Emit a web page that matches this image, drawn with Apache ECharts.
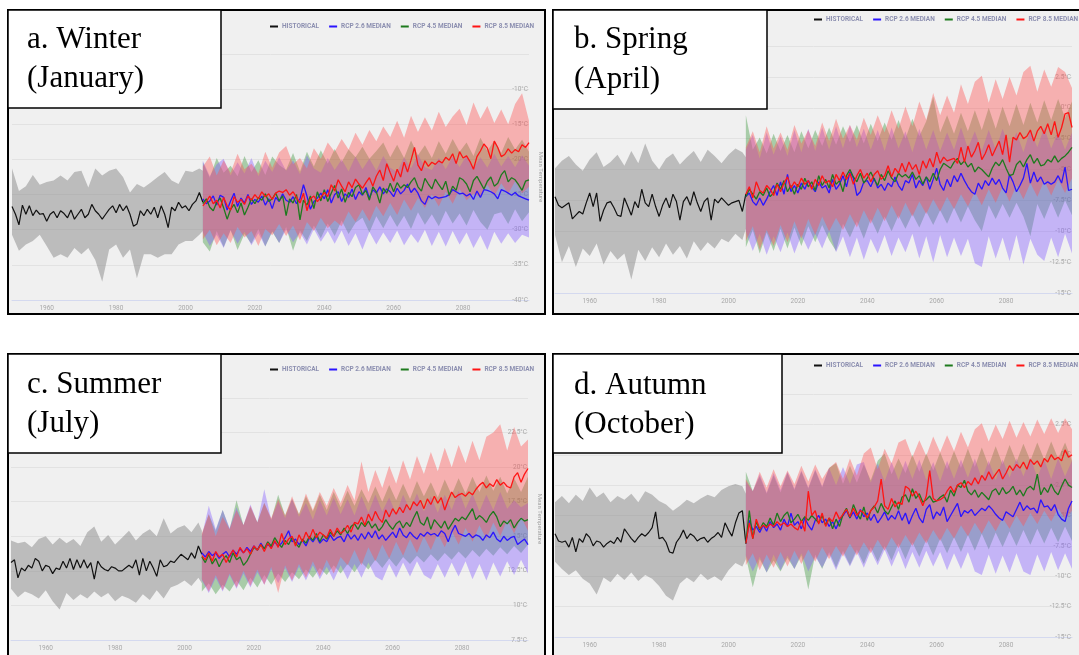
<!DOCTYPE html>
<html>
<head>
<meta charset="utf-8">
<script src="https://cdn.jsdelivr.net/npm/echarts@6/dist/echarts.min.js"></script>
<style>
  html, body { margin: 0; padding: 0; background: #fff; }
  #chart { width: 1079px; height: 655px; }
</style>
</head>
<body>
<div id="chart"></div>
<script>
// years
const range = (a, b, s) => { const r = []; for (let y = a; y <= b; y += s) r.push(y); return r; };
const allYears = range(1950, 2099, 1);
const histYears = range(1950, 2005, 1);
const histBandYears = range(1950, 2004, 2).concat([2005]);
const rcpYears = range(2005, 2099, 1);
const rcpBandYears = range(2005, 2099, 2);
const xTickYears = [1960, 1980, 2000, 2020, 2040, 2060, 2080];
const legendNames = ['HISTORICAL', 'RCP 2.6 MEDIAN', 'RCP 4.5 MEDIAN', 'RCP 8.5 MEDIAN'];

// a. Winter (January)
const winterHist = [-26.7, -27.8, -29.3, -26.5, -27.8, -26.6, -28.0, -27.2, -27.8, -27.7,
  -28.8, -27.8, -27.4, -28.3, -27.3, -27.7, -28.3, -27.2, -28.5, -27.8,
  -27.1, -28.3, -27.8, -26.4, -27.3, -27.8, -28.5, -27.8, -27.1, -26.6,
  -27.6, -26.4, -27.3, -26.6, -27.8, -29.5, -29.2, -27.3, -28.0, -27.1,
  -27.8, -26.8, -28.3, -26.6, -27.8, -29.7, -26.8, -27.3, -26.1, -26.9,
  -26.6, -27.3, -26.4, -25.9, -24.7, -26.1];
const winterHistHi = [-21.3, -24.5, -23.8, -22.2, -23.6, -23.2, -23.0, -22.3, -23.0, -21.8,
  -21.6, -24.0, -21.3, -22.3, -21.6, -21.3, -22.5, -24.7, -23.5, -24.0,
  -23.3, -22.5, -21.8, -23.0, -23.5, -21.6, -21.8, -21.3, -21.6];
const winterHistLo = [-30.7, -33.0, -32.1, -31.6, -30.7, -32.3, -34.0, -33.5, -34.0, -32.6,
  -33.5, -32.6, -34.3, -37.4, -32.8, -32.1, -34.0, -32.8, -36.9, -33.5,
  -33.5, -34.0, -33.5, -33.5, -32.1, -31.6, -31.6, -30.7, -30.2];
const winterRcp85 = [-26.6, -26.0, -25.2, -26.3, -25.8, -26.9, -25.4, -26.6, -27.2, -25.3,
  -26.1, -25.7, -26.4, -25.2, -25.8, -25.0, -25.6, -24.6, -25.3, -24.9,
  -25.7, -24.8, -24.5, -24.7, -24.3, -25.1, -24.6, -25.4, -26.2, -24.8,
  -27.3, -25.6, -25.2, -26.0, -25.4, -24.7, -25.3, -23.6, -24.5, -22.9,
  -23.8, -24.6, -23.2, -24.0, -22.8, -23.5, -24.1, -23.3, -22.6, -23.8,
  -22.4, -21.5, -23.0, -20.6, -21.9, -23.1, -21.4, -22.5, -20.4, -21.8,
  -20.1, -18.3, -20.8, -21.6, -20.2, -21.0, -20.4, -20.7, -20.2, -20.5,
  -19.7, -20.1, -19.2, -20.6, -18.9, -19.8, -19.5, -20.3, -21.4, -19.6,
  -18.8, -17.8, -18.4, -19.9, -17.4, -18.3, -19.6, -19.3, -18.5, -19.1,
  -18.6, -18.9, -17.9, -18.3, -17.6];
const winterRcp45 = [-26.3, -25.6, -26.8, -27.3, -26.1, -25.5, -26.9, -28.5, -27.1, -26.4,
  -27.6, -26.2, -27.9, -26.8, -25.6, -26.3, -25.4, -25.8, -24.9, -26.0,
  -25.6, -24.8, -25.9, -25.2, -28.0, -25.6, -26.2, -25.0, -28.6, -25.8,
  -26.5, -25.2, -27.0, -24.6, -25.9, -24.3, -26.0, -24.8, -23.7, -25.5,
  -24.2, -26.1, -24.7, -25.3, -24.0, -23.6, -25.0, -24.4, -25.8, -23.9,
  -24.6, -26.2, -24.1, -24.8, -23.4, -24.6, -23.3, -24.1, -23.6, -24.0,
  -23.2, -22.6, -23.9, -24.5, -22.7, -23.5, -24.2, -22.8, -23.6, -24.3,
  -23.1, -25.1, -23.8, -24.4, -22.6, -22.9, -23.5, -24.6, -23.0, -22.4,
  -23.3, -24.2, -23.1, -22.5, -23.8, -23.4, -22.2, -21.6, -23.2, -22.6,
  -22.9, -23.6, -24.4, -23.1, -22.9];
const winterRcp26 = [-25.6, -26.3, -25.9, -25.2, -26.5, -25.1, -25.4, -27.2, -25.9, -24.8,
  -26.7, -25.5, -26.2, -25.0, -26.4, -25.7, -26.1, -25.2, -26.5, -25.6,
  -27.0, -25.4, -26.0, -24.9, -25.8, -26.1, -25.3, -26.3, -25.6, -23.6,
  -25.2, -27.1, -26.0, -25.5, -24.8, -25.6, -24.3, -26.2, -25.0, -24.6,
  -26.0, -24.9, -25.4, -24.2, -25.7, -24.6, -25.1, -24.0, -25.5, -24.3,
  -24.8, -23.9, -24.9, -24.2, -24.6, -25.3, -24.1, -24.9, -24.4, -23.5,
  -24.7, -24.1, -24.8, -25.9, -26.4, -25.2, -25.6, -25.3, -25.5, -25.4,
  -25.3, -25.0, -24.3, -24.6, -24.9, -24.8, -25.2, -24.9, -25.7, -24.5,
  -25.4, -24.3, -24.4, -24.6, -24.9, -25.6, -24.3, -24.5, -24.8, -25.1,
  -24.7, -25.2, -25.4, -25.6, -25.8];
const winterRcp85Hi = [-21.0, -19.6, -22.3, -20.1, -21.9, -19.2, -21.4, -20.6, -22.0, -18.9,
  -21.2, -19.0, -18.1, -20.7, -19.8, -21.3, -18.4, -19.9, -17.6, -18.9,
  -17.1, -18.6, -16.2, -17.9, -15.8, -17.4, -15.3, -16.8, -14.5, -16.9,
  -13.8, -16.1, -14.0, -15.9, -13.2, -15.4, -13.9, -12.8, -15.1, -11.9,
  -14.2, -12.4, -14.8, -12.9, -15.0, -12.1, -10.6, -14.5];
const winterRcp85Lo = [-31.4, -30.0, -32.2, -30.5, -31.9, -29.6, -31.1, -30.2, -32.3, -29.9,
  -30.8, -29.2, -30.9, -29.4, -31.5, -28.9, -30.2, -28.3, -29.8, -28.7,
  -29.5, -27.4, -28.9, -27.1, -28.8, -26.6, -28.1, -26.2, -27.9, -25.7,
  -27.3, -25.5, -26.9, -25.0, -26.7, -24.6, -26.3, -24.2, -25.8, -24.9,
  -25.3, -23.6, -25.2, -23.4, -24.9, -23.1, -24.8, -23.9];
const winterRcp45Hi = [-20.4, -22.6, -19.8, -21.9, -20.9, -22.4, -19.5, -21.8, -20.1, -22.2,
  -19.6, -20.8, -21.5, -19.1, -21.7, -18.9, -21.0, -18.7, -20.6, -18.5,
  -20.4, -18.6, -19.7, -18.2, -19.9, -18.8, -17.6, -19.7, -17.9, -19.8,
  -17.3, -19.4, -18.0, -19.8, -17.4, -19.2, -17.1, -18.9, -17.6, -19.5,
  -16.9, -18.8, -17.3, -19.1, -16.8, -18.6, -17.2, -18.9];
const winterRcp45Lo = [-31.8, -33.1, -30.2, -32.5, -30.0, -32.9, -30.6, -32.0, -29.9, -32.4,
  -30.3, -31.9, -29.6, -33.0, -30.1, -31.6, -29.4, -31.2, -29.1, -30.9,
  -28.7, -30.6, -29.0, -28.3, -30.4, -28.1, -29.8, -27.9, -29.6, -28.0,
  -29.9, -27.5, -29.3, -27.8, -29.5, -27.3, -29.1, -27.7, -29.4, -27.2,
  -28.9, -30.0, -27.8, -27.5, -29.2, -27.1, -28.8, -27.5];
const winterRcp26Hi = [-20.2, -22.4, -20.7, -19.9, -22.3, -20.4, -22.0, -19.8, -22.4, -20.2,
  -21.8, -19.7, -21.6, -20.1, -22.1, -19.4, -21.3, -21.9, -19.8, -21.5,
  -20.0, -21.7, -19.6, -21.4, -19.9, -21.6, -19.5, -21.2, -21.8, -19.7,
  -21.3, -19.3, -21.1, -21.5, -19.8, -21.4, -19.6, -21.1, -19.4, -21.3,
  -19.7, -21.2, -19.2, -21.0, -19.5, -21.1, -19.4, -20.9];
const winterRcp26Lo = [-30.4, -32.3, -30.7, -32.6, -30.1, -32.0, -30.3, -32.2, -30.5, -32.4,
  -30.2, -31.9, -30.0, -31.8, -30.4, -32.1, -29.9, -31.7, -30.2, -32.0,
  -30.1, -32.3, -30.5, -32.8, -30.3, -32.1, -30.4, -31.9, -30.1, -32.2,
  -30.6, -31.9, -30.0, -32.3, -30.3, -32.4, -30.2, -32.1, -30.4, -32.6,
  -30.8, -32.9, -30.3, -32.0, -30.5, -31.9, -30.7, -31.1];

// b. Spring (April)
const springHist = [-7.2, -7.9, -8.1, -7.9, -7.7, -9.0, -8.7, -8.4, -8.6, -7.7,
  -6.9, -8.0, -6.9, -9.2, -8.3, -7.7, -7.6, -8.1, -8.7, -8.8,
  -7.3, -8.0, -8.7, -7.6, -8.1, -6.6, -7.7, -8.0, -7.0, -8.0,
  -8.8, -7.9, -7.3, -8.1, -7.0, -7.6, -9.1, -7.6, -7.2, -7.9,
  -6.8, -7.7, -8.4, -7.6, -7.3, -9.1, -7.4, -7.7, -7.3, -7.6,
  -7.9, -7.7, -7.6, -7.5, -8.4, -7.0];
const springHistHi = [-4.9, -4.3, -3.9, -4.6, -5.1, -4.2, -3.6, -4.8, -4.4, -3.8,
  -4.7, -3.5, -4.5, -2.9, -4.3, -5.0, -4.1, -3.7, -4.6, -4.0,
  -3.5, -4.4, -3.4, -3.9, -4.5, -3.8, -3.3, -3.6, -4.0];
const springHistLo = [-10.3, -12.5, -11.2, -12.9, -11.4, -12.0, -11.0, -12.7, -11.6, -12.3,
  -11.8, -13.9, -11.5, -12.4, -11.3, -12.1, -11.0, -11.9, -11.2, -12.2,
  -10.8, -11.6, -10.9, -11.4, -10.6, -10.9, -10.2, -10.7, -9.8];
const springRcp85 = [-7.0, -6.4, -7.3, -6.0, -6.7, -6.9, -6.3, -6.6, -7.1, -6.2,
  -6.8, -6.1, -5.6, -6.5, -6.0, -6.4, -5.7, -6.2, -5.9, -6.6,
  -5.8, -6.3, -5.5, -6.1, -5.9, -6.4, -5.4, -5.9, -5.2, -5.8,
  -5.3, -6.2, -5.5, -5.0, -5.7, -5.3, -6.0, -5.4, -5.1, -5.8,
  -5.5, -4.7, -5.6, -4.9, -5.3, -4.5, -5.2, -4.4, -5.0, -4.6,
  -5.4, -4.3, -4.9, -4.1, -4.8, -3.6, -4.5, -4.0, -4.3, -4.2,
  -4.1, -4.5, -3.2, -4.4, -3.1, -4.0, -3.5, -2.8, -4.2, -3.7,
  -3.0, -3.9, -3.3, -2.7, -3.8, -2.2, -4.4, -2.4, -2.6, -2.0,
  -2.5, -2.3, -1.8, -2.7, -1.9, -1.5, -2.1, -1.3, -2.2, -1.1,
  -2.4, -1.6, -0.5, -0.4, -1.6];
const springRcp45 = [-7.2, -6.6, -7.0, -7.4, -6.8, -7.1, -6.5, -7.2, -6.9, -6.1,
  -6.6, -5.9, -6.8, -6.3, -7.0, -6.2, -6.6, -5.7, -6.4, -6.0,
  -6.7, -5.5, -6.3, -5.8, -6.5, -5.4, -6.2, -5.9, -6.8, -5.5,
  -5.0, -5.6, -6.0, -5.3, -6.1, -5.7, -5.2, -5.8, -6.3, -5.4,
  -5.9, -5.1, -5.7, -6.0, -5.3, -5.6, -5.4, -5.7, -5.2, -5.8,
  -5.5, -6.2, -5.6, -6.0, -5.3, -5.9, -5.0, -4.5, -4.7, -4.9,
  -4.4, -4.1, -4.6, -4.3, -4.8, -4.5, -5.2, -4.8, -5.0, -5.3,
  -5.6, -4.9, -4.4, -4.7, -4.2, -4.9, -5.5, -5.4, -4.6, -4.3,
  -4.8, -4.2, -3.8, -4.5, -4.1, -4.7, -4.6, -4.2, -4.4, -3.9,
  -4.4, -4.1, -3.9, -3.6, -3.2];
const springRcp26 = [-7.2, -6.9, -7.6, -7.9, -7.3, -7.9, -7.4, -6.8, -6.3, -7.1,
  -6.0, -7.0, -5.4, -6.8, -6.3, -6.9, -6.1, -6.6, -5.9, -6.4,
  -6.8, -6.0, -6.5, -6.3, -6.9, -5.8, -6.6, -6.2, -5.5, -6.4,
  -5.2, -5.7, -7.1, -6.8, -6.0, -5.9, -6.4, -5.7, -6.5, -6.2,
  -6.7, -6.1, -6.4, -5.6, -6.3, -6.7, -5.9, -6.1, -5.4, -6.5,
  -5.9, -6.3, -5.6, -6.6, -5.8, -4.9, -6.2, -6.7, -5.8, -6.4,
  -5.5, -6.0, -5.3, -5.9, -6.4, -6.8, -7.0, -6.1, -6.6, -5.9,
  -6.3, -5.7, -6.2, -5.8, -6.5, -6.9, -5.4, -6.0, -6.8, -6.3,
  -5.7, -4.5, -6.1, -5.2, -6.0, -5.6, -6.2, -6.0, -6.2, -6.0,
  -5.5, -6.1, -4.8, -6.7, -6.6];
const springRcp85Hi = [-3.2, -1.9, -3.6, -1.5, -3.3, -2.0, -3.4, -1.4, -2.9, -1.8,
  -3.1, -1.2, -2.7, -0.9, -2.5, -1.4, -2.6, -0.8, -2.2, -0.6,
  -2.0, -0.2, -1.7, 0.1, -1.5, 0.5, -1.0, 1.2, -0.6, 1.0,
  -0.4, 1.9, 0.3, 2.1, 2.6, 0.4, 2.3, 0.7, 2.5, 1.0,
  2.9, 3.4, 1.3, 3.1, 1.7, 3.3, 2.9, 1.6];
const springRcp85Lo = [-10.8, -9.6, -11.5, -9.9, -11.2, -9.5, -10.9, -9.2, -10.6, -9.0,
  -10.3, -8.8, -10.0, -8.9, -9.9, -8.6, -9.7, -8.3, -9.4, -8.1,
  -9.2, -7.9, -9.0, -7.7, -8.8, -7.6, -8.6, -7.4, -8.4, -7.2,
  -8.2, -7.0, -8.0, -6.8, -7.9, -6.6, -7.7, -6.4, -7.6, -6.3,
  -7.4, -6.1, -7.2, -5.9, -7.1, -5.8, -6.9, -5.7];
const springRcp45Hi = [-0.6, -3.4, -2.4, -3.7, -2.1, -3.5, -2.2, -3.6, -1.9, -3.3,
  -1.8, -3.1, -1.6, -3.0, -1.5, -2.8, -1.4, -2.9, -1.3, -2.7,
  -1.2, -2.6, -1.0, -2.5, -0.9, -2.3, -1.1, 0.9, -2.0, -0.6,
  -2.1, -0.4, -1.9, -0.2, -1.8, 0.0, -1.7, 0.1, -1.5, 0.3,
  -1.4, 0.4, -1.2, 0.6, -1.0, 0.7, -0.8, 0.5];
const springRcp45Lo = [-11.3, -9.9, -11.8, -10.1, -11.6, -9.8, -11.4, -9.7, -11.2, -9.6,
  -10.9, -9.5, -10.7, -11.6, -9.4, -10.5, -9.2, -10.6, -9.0, -10.2,
  -8.8, -10.0, -8.7, -9.8, -8.6, -9.7, -8.4, -9.5, -8.3, -9.4,
  -8.1, -9.3, -8.0, -9.1, -10.0, -7.9, -9.0, -7.8, -8.9, -7.7,
  -8.8, -10.4, -7.8, -9.0, -7.6, -8.9, -7.5, -8.7];
const springRcp26Hi = [-3.4, -2.2, -4.1, -2.0, -3.8, -2.3, -3.9, -1.8, -3.6, -1.7,
  -3.5, -1.6, -3.4, -1.5, -3.3, -1.4, -3.2, -1.7, -3.4, -1.8,
  -3.5, -1.6, -3.3, -1.9, -3.6, -1.7, -3.4, -1.8, -3.5, -2.0,
  -3.4, -1.6, -3.3, -1.9, -3.5, -1.8, -3.4, -1.7, -3.3, -2.0,
  -3.6, -1.8, -3.2, -1.6, -3.3, -1.9, -3.4, -2.0];
const springRcp26Lo = [-10.0, -11.6, -10.2, -11.9, -10.4, -11.7, -10.1, -11.8, -10.3, -11.5,
  -10.2, -11.4, -10.0, -11.7, -10.4, -12.1, -10.5, -12.3, -10.6, -11.8,
  -10.3, -12.0, -10.5, -11.7, -10.2, -12.2, -10.4, -12.5, -10.3, -12.1,
  -10.5, -12.0, -10.6, -12.6, -12.9, -10.4, -12.2, -10.5, -12.4, -10.3,
  -12.7, -10.6, -11.9, -12.4, -10.5, -12.1, -10.2, -11.8];

// c. Summer (July)
const summerHist = [13.1, 13.3, 12.0, 12.7, 12.5, 12.9, 12.7, 13.4, 13.2, 12.5,
  12.9, 12.8, 12.3, 12.7, 12.6, 13.2, 12.7, 13.4, 12.6, 13.3,
  12.7, 13.3, 12.7, 13.1, 11.9, 13.2, 12.8, 12.6, 12.5, 12.8,
  12.7, 12.5, 12.5, 12.7, 12.9, 12.7, 13.3, 12.2, 13.4, 12.5,
  13.2, 12.7, 12.1, 13.3, 12.8, 12.9, 13.2, 13.1, 13.4, 13.7,
  13.5, 13.3, 13.8, 13.4, 14.3, 13.7];
const summerHistHi = [14.7, 14.5, 14.6, 14.2, 14.8, 15.0, 14.4, 14.9, 14.5, 14.8,
  14.3, 15.3, 15.7, 14.6, 15.1, 14.4, 14.9, 15.4, 14.7, 15.2,
  15.5, 15.0, 16.3, 15.2, 15.6, 15.8, 15.3, 16.0, 15.4];
const summerHistLo = [11.2, 10.6, 11.0, 10.8, 10.5, 11.1, 10.3, 9.7, 10.9, 10.4,
  10.8, 10.5, 11.0, 10.6, 10.9, 10.3, 10.7, 10.5, 10.2, 10.8,
  10.4, 11.1, 10.5, 11.3, 11.5, 11.8, 11.4, 12.0, 11.6];
const summerRcp85 = [13.6, 13.3, 13.8, 13.2, 13.9, 13.5, 13.7, 13.1, 13.6, 14.0,
  13.5, 14.2, 13.8, 14.1, 13.7, 14.3, 14.0, 14.4, 13.9, 14.5,
  14.1, 14.7, 14.2, 15.2, 14.4, 14.8, 15.0, 14.3, 15.1, 14.6,
  15.3, 14.8, 15.5, 14.9, 15.3, 15.1, 14.9, 15.5, 15.0, 15.6,
  15.2, 15.4, 15.8, 15.3, 16.0, 15.9, 16.4, 15.8, 16.6, 16.1,
  16.8, 16.3, 16.0, 16.9, 16.4, 17.0, 16.6, 17.1, 16.7, 17.3,
  16.9, 17.5, 17.2, 17.6, 17.0, 17.7, 17.3, 17.9, 17.4, 17.8,
  16.9, 17.6, 18.2, 17.8, 18.0, 18.1, 17.9, 18.2, 18.0, 18.4,
  18.7, 18.9, 18.5, 18.8, 18.6, 19.1, 18.7, 18.9, 18.6, 18.5,
  19.3, 19.6, 18.9, 19.5, 19.9];
const summerRcp45 = [13.5, 13.1, 13.7, 13.0, 13.4, 12.8, 13.3, 13.6, 13.1, 13.8,
  13.3, 13.5, 12.9, 13.2, 13.7, 14.2, 14.0, 14.4, 14.1, 14.6,
  14.3, 14.9, 14.5, 14.2, 14.7, 14.4, 14.9, 14.5, 14.2, 14.8,
  14.5, 15.0, 14.7, 15.2, 14.6, 15.1, 14.8, 15.3, 15.0, 15.4,
  15.1, 15.6, 15.2, 15.7, 15.9, 15.5, 16.0, 15.7, 16.1, 15.6,
  15.9, 15.4, 15.7, 16.2, 15.8, 15.5, 15.9, 16.1, 15.6, 16.0,
  15.7, 16.3, 16.8, 16.0, 15.8, 16.4, 15.5, 16.2, 15.9, 15.6,
  16.1, 15.5, 15.9, 16.3, 16.1, 16.4, 16.2, 16.6, 17.0, 16.2,
  16.5, 16.3, 16.0, 16.5, 16.8, 16.4, 15.7, 16.1, 15.9, 16.2,
  15.6, 16.0, 16.3, 16.1, 16.2];
const summerRcp26 = [13.8, 13.5, 13.9, 13.6, 13.8, 13.4, 13.7, 13.9, 13.5, 14.0,
  13.7, 14.1, 13.8, 14.2, 13.9, 14.3, 14.0, 14.5, 14.1, 14.4,
  14.2, 14.6, 14.3, 14.5, 14.9, 15.4, 14.6, 14.8, 14.4, 14.7,
  14.3, 14.9, 14.6, 15.0, 14.5, 14.8, 14.6, 15.1, 14.7, 14.9,
  15.0, 14.6, 15.2, 14.8, 15.1, 14.7, 15.2, 14.8, 15.3, 14.9,
  15.4, 14.8, 15.1, 14.7, 15.0, 15.3, 14.9, 15.6, 15.1, 14.9,
  15.3, 15.0, 14.8, 15.2, 15.0, 15.3, 15.1, 15.2, 15.0, 15.4,
  15.2, 14.6, 15.3, 15.8, 15.2, 15.1, 15.0, 15.2, 14.9, 15.1,
  15.0, 14.7, 15.1, 14.9, 15.3, 14.8, 14.6, 15.0, 14.7, 14.9,
  15.0, 14.4, 14.6, 14.8, 14.4];
const summerRcp85Hi = [15.2, 16.6, 15.0, 16.4, 15.5, 16.9, 15.8, 17.2, 16.0, 17.4,
  16.3, 17.7, 16.5, 17.9, 16.6, 18.1, 16.9, 18.2, 17.2, 18.5,
  17.4, 18.7, 17.6, 20.4, 18.2, 19.8, 18.5, 20.1, 18.8, 20.5,
  19.1, 20.8, 19.5, 21.1, 19.7, 21.4, 20.0, 21.6, 20.3, 21.9,
  20.5, 22.2, 22.5, 23.1, 21.2, 22.9, 21.5, 22.0];
const summerRcp85Lo = [11.9, 11.0, 12.2, 11.1, 12.3, 11.3, 12.5, 11.4, 12.6, 11.5,
  12.8, 10.9, 12.9, 11.8, 13.0, 12.0, 13.2, 12.1, 13.3, 12.3,
  13.5, 12.9, 14.0, 12.9, 14.2, 13.2, 14.4, 13.4, 14.6, 13.6,
  14.8, 13.8, 15.0, 14.0, 15.2, 14.2, 15.4, 14.4, 15.6, 14.6,
  15.8, 14.8, 16.0, 15.0, 16.2, 15.2, 16.4, 15.4];
const summerRcp45Hi = [15.1, 16.6, 15.4, 16.9, 15.5, 17.6, 15.8, 17.1, 16.0, 17.4,
  16.2, 18.0, 16.5, 17.7, 16.6, 17.9, 16.8, 18.0, 16.9, 18.2,
  17.1, 18.3, 17.2, 18.4, 17.4, 18.6, 17.5, 18.7, 17.6, 18.8,
  17.7, 19.0, 17.9, 18.9, 17.8, 19.1, 18.0, 19.2, 18.1, 19.3,
  18.2, 19.4, 18.3, 19.3, 18.1, 19.2, 18.2, 19.3];
const summerRcp45Lo = [11.0, 11.6, 10.8, 11.5, 11.0, 11.8, 11.1, 12.0, 11.3, 12.2,
  11.5, 12.3, 11.7, 12.4, 11.9, 12.6, 12.0, 12.7, 12.2, 12.9,
  12.3, 13.0, 12.4, 13.1, 12.6, 13.3, 12.7, 13.4, 12.8, 13.5,
  13.0, 13.6, 13.1, 13.7, 13.2, 13.8, 13.3, 13.9, 13.4, 14.0,
  13.5, 14.1, 13.6, 14.2, 13.7, 14.3, 13.8, 14.4];
const summerRcp26Hi = [15.0, 17.2, 15.5, 16.9, 15.6, 17.1, 15.8, 17.3, 16.0, 18.4,
  16.2, 17.5, 16.3, 17.7, 16.4, 17.4, 16.2, 17.6, 16.5, 17.8,
  16.6, 17.7, 16.5, 17.9, 16.7, 18.0, 16.8, 17.8, 16.6, 18.0,
  16.9, 18.1, 16.8, 17.9, 16.7, 18.0, 16.9, 18.3, 17.0, 18.1,
  16.8, 18.0, 16.9, 18.2, 17.0, 17.6, 17.1, 17.4];
const summerRcp26Lo = [11.8, 10.9, 12.0, 11.0, 12.2, 11.2, 12.3, 11.3, 12.4, 11.5,
  12.6, 11.6, 12.7, 11.7, 12.8, 11.8, 12.9, 11.9, 12.8, 11.8,
  12.9, 11.9, 13.0, 12.0, 13.1, 12.1, 11.8, 13.0, 12.0, 13.1,
  12.1, 13.2, 12.2, 11.9, 13.0, 12.0, 13.1, 12.1, 13.2, 11.9,
  13.0, 11.8, 13.1, 12.1, 13.2, 12.2, 13.3, 12.3];

// d. Autumn (October)
const autumnHist = [-6.5, -7.1, -7.2, -7.1, -7.6, -6.8, -8.0, -6.9, -7.2, -6.5,
  -6.8, -7.5, -7.1, -7.2, -7.6, -7.3, -7.1, -7.3, -6.8, -7.2,
  -6.1, -6.5, -6.9, -7.2, -6.8, -6.5, -6.7, -6.4, -6.0, -4.7,
  -6.9, -6.8, -7.2, -8.0, -8.1, -7.2, -6.8, -6.2, -6.9, -6.5,
  -6.7, -7.1, -6.9, -6.8, -7.2, -6.9, -6.7, -6.4, -6.8, -5.6,
  -6.2, -6.7, -5.6, -4.8, -4.6, -7.3];
const autumnHistHi = [-3.9, -3.4, -4.0, -3.3, -3.8, -2.7, -3.5, -3.1, -3.9, -3.4,
  -3.7, -3.2, -3.9, -3.0, -3.3, -3.8, -4.1, -4.6, -4.2, -3.7,
  -4.0, -3.6, -3.3, -3.5, -2.9, -2.6, -2.4, -2.6, -3.2];
const autumnHistLo = [-8.8, -9.4, -9.9, -9.5, -10.2, -10.6, -11.5, -10.1, -10.5, -9.8,
  -10.3, -9.7, -10.4, -9.9, -10.2, -10.8, -11.6, -12.0, -10.6, -10.1,
  -10.5, -9.8, -10.3, -10.0, -10.4, -9.5, -8.9, -9.2, -8.6];
const autumnRcp85 = [-7.3, -5.6, -6.9, -5.3, -6.1, -5.8, -6.0, -5.7, -5.9, -5.5,
  -5.8, -5.6, -5.9, -5.7, -6.0, -6.2, -5.4, -6.3, -3.0, -5.0,
  -4.6, -5.7, -4.8, -5.9, -5.2, -5.5, -4.7, -5.3, -4.9, -4.5,
  -5.1, -4.4, -5.0, -4.6, -4.8, -5.2, -4.6, -4.3, -3.8, -2.0,
  -4.2, -4.5, -3.6, -4.3, -3.9, -4.1, -2.6, -2.8, -3.4, -3.0,
  -3.5, -4.2, -3.4, -1.3, -3.6, -3.8, -3.7, -3.5, -3.0, -2.6,
  -3.1, -2.5, -2.3, -2.7, -2.2, -2.5, -1.9, -2.4, -1.7, -2.1,
  -1.4, -2.0, -1.6, -1.2, -2.0, -1.5, -0.9, -1.3, -0.8, -1.1,
  -0.6, -1.2, -0.4, -0.8, -0.5, -1.0, -0.3, -0.6, 0.0, -0.4,
  -0.2, -0.5, 0.4, -0.2, 0.0];
const autumnRcp45 = [-7.3, -4.6, -6.9, -5.5, -6.2, -5.6, -5.9, -5.2, -5.8, -4.8,
  -5.5, -5.0, -4.7, -5.6, -5.3, -4.9, -5.5, -5.1, -5.4, -5.0,
  -5.3, -5.6, -5.0, -5.8, -5.2, -6.1, -5.3, -5.9, -4.9, -4.4,
  -5.2, -4.1, -4.8, -5.3, -4.3, -5.4, -4.6, -4.2, -4.8, -4.0,
  -4.6, -4.9, -4.3, -3.8, -4.5, -3.5, -3.3, -3.9, -2.8, -3.6,
  -3.2, -3.9, -3.7, -3.4, -3.9, -3.8, -3.5, -3.3, -3.9, -2.9,
  -3.4, -2.5, -2.7, -2.1, -3.0, -3.3, -2.9, -3.5, -3.1, -3.4,
  -3.7, -3.0, -2.8, -3.3, -2.7, -3.2, -3.0, -2.6, -3.3, -2.9,
  -3.4, -2.8, -2.6, -2.9, -1.6, -3.3, -2.7, -3.1, -2.4, -3.0,
  -3.3, -2.6, -2.0, -2.5, -2.7];
const autumnRcp26 = [-7.3, -5.4, -6.2, -5.9, -6.4, -5.8, -6.3, -5.5, -6.0, -5.7,
  -6.2, -5.3, -5.9, -4.8, -5.8, -5.5, -6.1, -5.2, -5.8, -6.2,
  -5.4, -5.0, -5.6, -5.3, -5.9, -5.5, -6.1, -5.4, -5.0, -4.6,
  -5.2, -4.7, -5.3, -4.5, -5.1, -4.8, -5.4, -4.9, -5.6, -5.2,
  -4.7, -5.4, -5.0, -5.3, -4.6, -5.4, -4.8, -5.7, -5.0, -4.4,
  -5.2, -5.6, -4.5, -4.1, -5.3, -4.7, -5.0, -4.3, -5.5, -5.0,
  -4.5, -4.0, -5.1, -4.6, -4.8, -4.5, -5.0, -4.7, -4.4, -4.6,
  -4.2, -4.5, -4.9, -5.2, -5.4, -4.7, -4.9, -5.1, -4.5, -3.9,
  -4.6, -4.2, -4.5, -4.4, -4.8, -3.7, -4.3, -4.2, -4.6, -4.1,
  -4.9, -5.3, -5.5, -4.4, -3.8];
const autumnRcp85Hi = [-2.0, -3.0, -1.4, -2.7, -1.2, -2.6, -1.3, -2.4, -0.9, -2.2,
  -0.8, -2.0, -1.1, -0.6, -2.0, -0.3, -1.7, 0.1, 0.6, -1.2,
  0.5, -0.7, 1.0, 1.3, -0.2, 1.2, -0.1, 1.5, 0.2, 1.6,
  0.3, 1.9, 0.6, 2.1, 2.6, 1.1, 2.5, 1.3, 2.8, 1.4,
  2.7, 1.5, 2.9, 1.7, 3.0, 1.8, 3.0, 2.1];
const autumnRcp85Lo = [-9.1, -8.1, -9.5, -8.2, -9.3, -8.0, -9.2, -7.9, -9.0, -7.8,
  -8.8, -7.6, -8.6, -7.5, -8.4, -7.3, -8.3, -7.2, -8.1, -7.0,
  -7.9, -6.8, -7.7, -6.6, -7.5, -6.4, -7.3, -6.2, -7.1, -6.0,
  -6.9, -5.8, -6.7, -5.6, -6.5, -5.4, -6.3, -5.2, -6.1, -5.0,
  -5.9, -4.8, -5.7, -4.6, -5.5, -4.4, -5.3, -4.6];
const autumnRcp45Hi = [-1.4, -3.0, -1.8, -3.2, -1.7, -3.1, -1.5, -2.9, -1.4, -2.8,
  -1.3, -2.7, -1.1, -0.7, -2.4, -0.9, -2.3, -0.8, -2.1, -0.5,
  0.1, -1.6, -0.3, -1.5, 0.0, -1.4, 0.1, -1.3, 0.2, -1.2,
  0.3, -1.1, 0.5, -1.0, 0.6, -0.9, 0.7, -0.8, 0.8, -0.6,
  0.9, -0.5, 1.0, -0.4, 1.1, -0.3, 1.0, -0.5];
const autumnRcp45Lo = [-8.4, -10.9, -8.6, -9.7, -8.7, -9.6, -8.5, -9.4, -8.3, -11.1,
  -8.2, -9.4, -8.0, -9.3, -7.9, -9.1, -7.8, -9.0, -7.6, -8.8,
  -7.5, -8.7, -7.3, -8.6, -7.2, -8.4, -7.0, -8.3, -6.9, -8.1,
  -6.8, -8.0, -6.6, -7.9, -6.5, -7.8, -6.4, -7.6, -6.3, -7.5,
  -6.2, -7.4, -6.1, -7.3, -6.0, -7.2, -5.9, -7.1];
const autumnRcp26Hi = [-2.2, -3.0, -1.6, -3.1, -1.5, -2.9, -1.4, -2.8, -1.3, -2.7,
  -1.2, -2.6, -1.1, -2.5, -1.0, -2.4, -0.8, -0.6, -2.3, -0.7,
  -2.2, -0.6, -2.1, -0.5, -2.0, -0.4, -2.1, -0.6, -2.2, -0.5,
  -2.0, -0.4, -1.9, -0.3, -2.0, -0.5, -2.1, -0.4, -1.9, -0.3,
  -1.8, -0.2, -1.9, -0.4, -2.0, -0.3, -1.8, -0.5];
const autumnRcp26Lo = [-8.3, -9.6, -8.4, -9.7, -8.2, -9.5, -8.3, -9.4, -8.1, -9.6,
  -8.4, -9.3, -8.2, -9.5, -8.1, -9.2, -8.0, -9.3, -7.9, -9.1,
  -7.8, -9.2, -7.9, -9.4, -8.0, -9.3, -7.9, -9.2, -8.0, -9.5,
  -8.1, -9.4, -8.0, -9.6, -9.9, -8.2, -9.8, -8.3, -9.7, -8.1,
  -9.6, -9.9, -8.2, -9.6, -8.0, -9.5, -8.1, -9.4];

const panels = [
  {
    data: [winterHist, winterHistLo, winterHistHi, winterRcp26, winterRcp26Lo, winterRcp26Hi,
      winterRcp45, winterRcp45Lo, winterRcp45Hi, winterRcp85, winterRcp85Lo, winterRcp85Hi],
    y: [-40, -5, 5], frame: [8, 10, 537, 304], box: [8, 10, 213, 98],
    grid: { left: 12, top: 54, width: 517, height: 246 }, legend: [265, 18],
    label: ['a. Winter', '(January)'], labelPos: [27, 40, 79]
  },
  {
    data: [springHist, springHistLo, springHistHi, springRcp26, springRcp26Lo, springRcp26Hi,
      springRcp45, springRcp45Lo, springRcp45Hi, springRcp85, springRcp85Lo, springRcp85Hi],
    y: [-15, 5, 2.5], frame: [553, 10, 540, 304], box: [553, 10, 214, 99],
    grid: { left: 555, top: 46, width: 517, height: 247 }, legend: [809, 11],
    label: ['b. Spring', '(April)'], labelPos: [574, 40, 80]
  },
  {
    data: [summerHist, summerHistLo, summerHistHi, summerRcp26, summerRcp26Lo, summerRcp26Hi,
      summerRcp45, summerRcp45Lo, summerRcp45Hi, summerRcp85, summerRcp85Lo, summerRcp85Hi],
    y: [7.5, 25, 2.5], frame: [8, 354, 537, 320], box: [8, 354, 213, 99],
    grid: { left: 11, top: 398, width: 517, height: 242 }, legend: [265, 361],
    label: ['c. Summer', '(July)'], labelPos: [27, 385, 424]
  },
  {
    data: [autumnHist, autumnHistLo, autumnHistHi, autumnRcp26, autumnRcp26Lo, autumnRcp26Hi,
      autumnRcp45, autumnRcp45Lo, autumnRcp45Hi, autumnRcp85, autumnRcp85Lo, autumnRcp85Hi],
    y: [-15, 5, 2.5], frame: [553, 354, 540, 320], box: [553, 354, 229, 99],
    grid: { left: 555, top: 394, width: 517, height: 243 }, legend: [809, 357],
    label: ['d. Autumn', '(October)'], labelPos: [574, 386, 425]
  }
];

const pairs = (xs, ys) => xs.map((x, i) => [String(x), ys[i]]);

function line(name, years, values, color, width, gi) {
  return {
    type: 'line', name, xAxisIndex: gi, yAxisIndex: gi, data: pairs(years, values),
    symbol: 'none', lineStyle: { color, width }, itemStyle: { color }, z: 3, silent: true
  };
}

function band(key, years, lo, hi, color, gi) {
  const stack = key + gi;
  const common = {
    type: 'line', xAxisIndex: gi, yAxisIndex: gi, stack, stackStrategy: 'all',
    symbol: 'none', lineStyle: { opacity: 0, width: 0 }, silent: true, z: 1
  };
  return [
    Object.assign({}, common, { data: pairs(years, lo) }),
    Object.assign({}, common, { data: pairs(years, hi.map((h, i) => +(h - lo[i]).toFixed(2))), areaStyle: { color, opacity: 1 } })
  ];
}

const grid = [], xAxis = [], yAxis = [], legend = [], series = [], graphic = [];
const axisText = { color: '#a8a8a8', fontSize: 6.5 };

panels.forEach((p, gi) => {
  const [hist, histLo, histHi, r26, r26Lo, r26Hi, r45, r45Lo, r45Hi, r85, r85Lo, r85Hi] = p.data;
  const [yMin, yMax, yStep] = p.y;
  grid.push(Object.assign({ outerBoundsMode: 'none', containLabel: false }, p.grid));
  xAxis.push({
    type: 'category', gridIndex: gi, data: allYears.map(String), boundaryGap: false,
    axisLine: { onZero: false, lineStyle: { color: '#d4d9ef' } },
    axisTick: { show: false }, splitLine: { show: false },
    axisLabel: Object.assign({ margin: 5, interval: (i, v) => xTickYears.includes(Number(v)) }, axisText)
  });
  yAxis.push({
    type: 'value', gridIndex: gi, position: 'right', min: yMin, max: yMax, interval: yStep,
    axisLine: { show: false }, axisTick: { show: false },
    splitLine: { lineStyle: { color: '#e2e2e2' } },
    axisLabel: Object.assign({ inside: true, margin: 1, formatter: v => v === yMax ? '' : v + '°C' }, axisText),
    name: 'Mean Temperature', nameLocation: 'middle', nameRotate: -90, nameGap: 8,
    nameTextStyle: { color: '#a0a0a0', fontSize: 6 }
  });
  legend.push({
    left: p.legend[0], top: p.legend[1], width: 420, data: legendNames, selectedMode: false,
    icon: 'rect', itemWidth: 8, itemHeight: 2, itemGap: 10,
    textStyle: { color: '#8c8fb0', fontSize: 6.5, fontWeight: 'bold', padding: [0, 0, 0, -1] }
  });

  series.push(...band('hist', histBandYears, histLo, histHi, 'rgba(135,135,135,0.5)', gi));
  series.push(...band('r45', rcpBandYears, r45Lo, r45Hi, 'rgba(60,150,60,0.4)', gi));
  series.push(...band('r26', rcpBandYears, r26Lo, r26Hi, 'rgba(130,90,255,0.4)', gi));
  series.push(...band('r85', rcpBandYears, r85Lo, r85Hi, 'rgba(255,80,80,0.4)', gi));
  series.push(line('HISTORICAL', histYears, hist, '#111111', 1.2, gi));
  series.push(line('RCP 2.6 MEDIAN', rcpYears, r26, '#2a14ff', 1.3, gi));
  series.push(line('RCP 4.5 MEDIAN', rcpYears, r45, '#1d7a1d', 1.3, gi));
  series.push(line('RCP 8.5 MEDIAN', rcpYears, r85, '#ff1414', 1.3, gi));

  const [fx, fy, fw, fh] = p.frame;
  graphic.push({ type: 'rect', z: -10, silent: true, shape: { x: fx, y: fy, width: fw, height: fh },
    style: { fill: '#f0f0f0', stroke: '#000', lineWidth: 2 } });
  const [bx, by, bw, bh] = p.box;
  graphic.push({ type: 'rect', z: 100, silent: true, shape: { x: bx, y: by, width: bw, height: bh },
    style: { fill: '#fff', stroke: '#000', lineWidth: 1.5 } });
  const [tx, ty1, ty2] = p.labelPos;
  [ty1, ty2].forEach((ty, k) => graphic.push({
    type: 'text', z: 101, silent: true,
    style: { x: tx, y: ty, text: p.label[k], fill: '#000', fontSize: 31,
      fontFamily: '"Liberation Serif", serif', verticalAlign: 'middle' }
  }));
});

const option = {
  backgroundColor: '#ffffff',
  animation: false,
  textStyle: { fontFamily: 'Roboto, sans-serif' },
  grid, xAxis, yAxis, legend, series, graphic
};

const chart = echarts.init(document.getElementById('chart'), null, { renderer: 'canvas' });
chart.setOption(option);
</script>
</body>
</html>
